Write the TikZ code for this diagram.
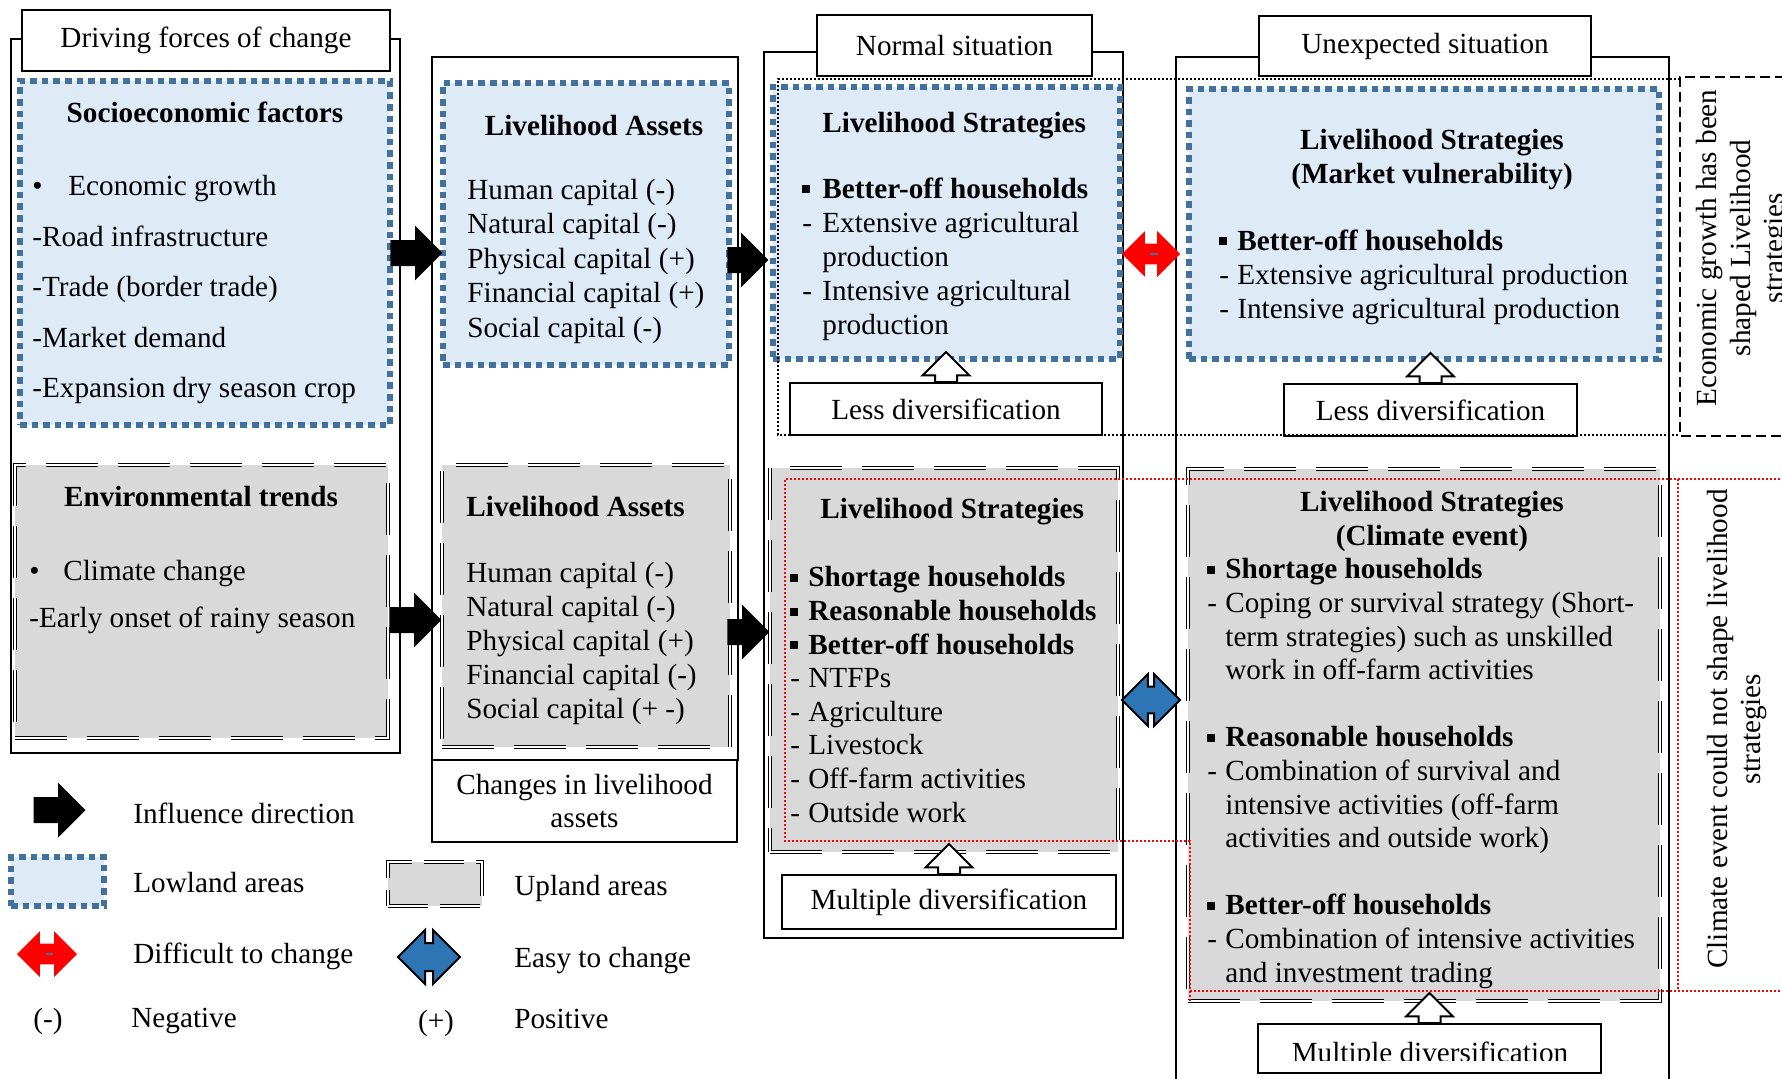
\documentclass[tikz,border=0pt]{standalone}
\usepackage{fontspec}
\setmainfont{Liberation Serif}
\usetikzlibrary{shapes.arrows,calc}
\definecolor{lowfill}{HTML}{DEEBF7}
\definecolor{lowline}{HTML}{41719C}
\definecolor{upgray}{HTML}{D9D9D9}
\definecolor{easyblue}{HTML}{2E75B6}
\newcommand{\sqb}{\rule[2.3pt]{4pt}{4pt}}
\newcommand{\itm}[2][9pt]{\makebox[#1][l]{#2}}
\tikzset{
  colbox/.style={draw,line width=1pt,fill=white,inner sep=0pt,outer sep=0pt,align=center},
  lowland/.style={draw=lowline,fill=lowfill,line width=3pt,dash pattern=on 3.3pt off 2.5pt,
                  inner sep=0pt,outer sep=0pt},
  upland/.style={draw=black,double=white,double distance=1.1pt,line width=0.65pt,
                 dash pattern=on 26pt off 10pt,fill=upgray,inner sep=0pt,outer sep=0pt},
  lbl/.style={inner sep=0pt,align=left,anchor=base west},
  hd/.style={inner sep=0pt,align=center,anchor=base,font=\bfseries},
  influence/.style={single arrow,fill=black,inner xsep=0pt,inner ysep=6.3pt,
                    single arrow head extend=7.2pt,minimum height=26pt,anchor=tip},
  hollowup/.style={single arrow,draw,line width=1pt,fill=white,shape border rotate=90,
                   inner xsep=5pt,inner ysep=0pt,single arrow head extend=6.2pt,
                   minimum height=15pt,anchor=tail},
  hard/.style={double arrow,fill=red,inner xsep=0pt,inner ysep=5pt,
               double arrow head extend=6.2pt,minimum height=29pt},
  easy/.style={double arrow,draw,line width=1pt,fill=easyblue,inner xsep=0pt,inner ysep=6.2pt,
               double arrow head extend=6.2pt,minimum height=29pt},
  blkdot/.style={line width=1pt,dash pattern=on 1pt off 1pt},
  reddot/.style={draw=red,line width=1pt,dash pattern=on 1pt off 1pt},
  dashbox/.style={line width=1pt,dash pattern=on 5pt off 2.5pt},
}
\begin{document}
\fontsize{14.6}{16.9}\selectfont
\begin{tikzpicture}[x=0.5pt,y=-0.5pt]
  \useasboundingbox (0,0) rectangle (1782,1078);

  % driving forces
  \node[colbox,minimum width=194.5pt,minimum height=357pt,anchor=north west] (col1) at (11,39) {};
  \node[lowland,minimum width=185pt,minimum height=172pt,anchor=north west] (socio) at (20,81) {};
  \node[upland,minimum width=186.5pt,minimum height=136.5pt,anchor=north west] (envi) at (15,465) {};
  \node[colbox,minimum width=184pt,minimum height=30.5pt] (ttl1) at (206,40.5) {Driving forces of change};

  % livelihood assets
  \node[colbox,minimum width=153pt,minimum height=351.5pt,anchor=north west] (col2) at (432,57) {};
  \node[lowland,minimum width=143pt,minimum height=141pt,anchor=north west] (assetsUp) at (443,83) {};
  \node[upland,minimum width=144pt,minimum height=141pt,anchor=north west] (assetsLow) at (442,465) {};
  \node[colbox,minimum width=152.5pt,minimum height=41pt,anchor=north west] (chg) at (432,760)
    {Changes in livelihood\\assets};

  % normal situation
  \node[colbox,minimum width=179.5pt,minimum height=443pt,anchor=north west] (col3) at (764,52) {};
  \node[lowland,minimum width=173.5pt,minimum height=136pt,anchor=north west] (stratUp3) at (773,87) {};
  \node[upland,minimum width=174pt,minimum height=192pt,anchor=north west] (stratLow3) at (770,468) {};
  \node[colbox,minimum width=156pt,minimum height=26pt,anchor=north west] (less3) at (790,383) {Less diversification};
  \node[colbox,minimum width=167pt,minimum height=27pt,anchor=north west] (multi3) at (782,875) {Multiple diversification};
  \node[colbox,minimum width=137.5pt,minimum height=30.5pt] (ttl3) at (954.5,45.5) {Normal situation};

  % unexpected situation
  \node[colbox,minimum width=246.5pt,minimum height=520pt,anchor=north west] (col4) at (1176,57) {};
  \node[lowland,minimum width=235pt,minimum height=135pt,anchor=north west] (stratUp4) at (1189,89) {};
  \node[upland,minimum width=236pt,minimum height=266pt,anchor=north west] (stratLow4) at (1188,469) {};
  \node[colbox,minimum width=146.5pt,minimum height=26pt,anchor=north west] (less4) at (1284,384) {Less diversification};
  \node[colbox,minimum width=171.5pt,minimum height=24.5pt,anchor=north west] (multi4) at (1258,1024) {};
  \node[colbox,minimum width=166pt,minimum height=30pt] (ttl4) at (1425,46) {Unexpected situation};

  % lowland row and upland row outlines
  \draw[blkdot] (1680,79) -- (778,79) -- (778,435) -- (1680,435);
  \draw[dashbox] (1800,77) -- (1680,77) -- (1680,436) -- (1800,436);
  \draw[reddot] (1800,479) -- (785,479) -- (785,841) -- (1190,841) -- (1190,1001);
  \draw[reddot] (1190,991) -- (1800,991);
  \draw[reddot] (1678,479) -- (1678,991);

  % influence arrows
  \node[influence] (a1) at (assetsUp.west |- socio.east) {};
  \node[influence] (a2) at ($(assetsLow.west)+(0,14)$) {};
  \node[influence,minimum height=20.5pt] (a3) at ($(stratUp3.west)+(-4,37)$) {};
  \node[influence,minimum height=21pt] (a4) at ($(stratLow3.west)+(0,-28)$) {};

  % change arrows
  \node[hard] (hard1) at ($(stratUp3.east)+(31,31)$) {};
  \draw[lowline,line width=1.3pt] ($(hard1.center)+(-1,0)$) -- ++(8,0);
  \node[easy] (easy1) at ($(stratLow3.east)+(33,40)$) {};

  % diversification arrows
  \node[hollowup] (up1) at (less3.north) {};
  \node[hollowup] (up2) at (multi3.north) {};
  \node[hollowup] (up3) at (less4.north) {};
  \node[hollowup] (up4) at (multi4.north) {};

  % texts (multi-line nodes sit on their last baseline)
  \node[hd] (h1) at (205,122) {Socioeconomic factors};
  \node[lbl,font=\fontsize{14.6}{25.25}\selectfont] (l1) at (32,397.5)
    {\makebox[18pt][l]{\textbullet}Economic growth\\-Road infrastructure\\-Trade (border trade)\\-Market demand\\-Expansion dry season crop};
  \node[hd] (h2) at (201,506) {Environmental trends};
  \node[lbl,font=\fontsize{14.6}{23.5}\selectfont] (l2) at (29,627)
    {\makebox[17pt][l]{\textbullet}Climate change\\-Early onset of rainy season};

  \node[hd] (h3) at (594,135) {Livelihood Assets};
  \node[lbl,font=\fontsize{14.6}{17.2}\selectfont] (l3) at (467,337)
    {Human capital (-)\\Natural capital (-)\\Physical capital (+)\\Financial capital (+)\\Social capital (-)};
  \node[hd,anchor=base west] (h4) at (466,516) {Livelihood Assets};
  \node[lbl] (l4) at (466,718)
    {Human capital (-)\\Natural capital (-)\\Physical capital (+)\\Financial capital (-)\\Social capital (+ -)};

  \node[hd,anchor=base west] (h5) at (822,132) {Livelihood Strategies};
  \node[lbl,font=\fontsize{14.6}{17}\selectfont] (l5) at (802,334)
    {\itm[10pt]{\sqb}\textbf{Better-off households}\\\itm[10pt]{-}Extensive agricultural\\\hspace*{10pt}production\\
     \itm[10pt]{-}Intensive agricultural\\\hspace*{10pt}production};
  \node[hd,anchor=base west] (h6) at (820,518) {Livelihood Strategies};
  \node[lbl,font=\fontsize{14.6}{16.8}\selectfont] (l6) at (790,822)
    {\itm{\sqb}\textbf{Shortage households}\\\itm{\sqb}\textbf{Reasonable households}\\\itm{\sqb}\textbf{Better-off households}\\
     \itm{-}NTFPs\\\itm{-}Agriculture\\\itm{-}Livestock\\\itm{-}Off-farm activities\\\itm{-}Outside work};

  \node[hd,font=\bfseries\fontsize{14.6}{16.6}\selectfont] (h7) at (1432,183) {Livelihood Strategies\\(Market vulnerability)};
  \node[lbl,font=\fontsize{14.6}{17}\selectfont] (l7) at (1219,318)
    {\itm{\sqb}\textbf{Better-off households}\\\itm{-}Extensive agricultural production\\\itm{-}Intensive agricultural production};
  \node[hd,font=\bfseries\fontsize{14.6}{17}\selectfont] (h8) at (1432,545) {Livelihood Strategies\\(Climate event)};
  \node[lbl,font=\fontsize{14.6}{16.8}\selectfont] (l8) at (1207,982)
    {\itm{\sqb}\textbf{Shortage households}\\\itm{-}Coping or survival strategy (Short-\\\hspace*{9pt}term strategies) such as unskilled\\
     \hspace*{9pt}work in off-farm activities\\[16.8pt]
     \itm{\sqb}\textbf{Reasonable households}\\\itm{-}Combination of survival and\\\hspace*{9pt}intensive activities (off-farm\\
     \hspace*{9pt}activities and outside work)\\[16.8pt]
     \itm{\sqb}\textbf{Better-off households}\\\itm{-}Combination of intensive activities\\\hspace*{9pt}and investment trading};

  \begin{scope}
    \clip (multi4.north west) rectangle (1601,1060);
    \node[anchor=base,inner sep=0pt] (m4txt) at (1430,1062) {Multiple diversification};
  \end{scope}

  % side notes
  \node[rotate=90,align=center,inner sep=0pt] (econ) at (1743,248)
    {Economic growth has been\\shaped Livelihood\\strategies};
  \node[rotate=90,align=center,inner sep=0pt] (clim) at (1737,729)
    {Climate event could not shape livelihood\\strategies};

  % legend
  \node[influence,anchor=center] (lgInf) at (53,810) {};
  \node[lbl] (lgInfT) at (133,823) {Influence direction};
  \node[lowland,minimum width=46.5pt,minimum height=24.5pt] (lgLow) at (57.5,881.5) {};
  \node[lbl] (lgLowT) at (133,892) {Lowland areas};
  \node[upland,minimum width=47pt,minimum height=22pt,dash pattern=on 20pt off 6pt] (lgUp) at (435,884) {};
  \node[lbl] (lgUpT) at (514,895) {Upland areas};
  \node[hard,minimum height=30pt] (lgHard) at (47,954) {};
  \draw[lowline,line width=1.3pt] ($(lgHard.center)+(-1,0)$) -- ++(7,0);
  \node[lbl] (lgHardT) at (133,963) {Difficult to change};
  \node[easy,minimum height=31pt,inner ysep=6.5pt,double arrow head extend=6.5pt] (lgEasy) at (429,957) {};
  \node[lbl] (lgEasyT) at (514,967) {Easy to change};
  \node[anchor=base,inner sep=0pt] (lgNeg) at (48,1028) {(-)};
  \node[lbl] (lgNegT) at (131,1027) {Negative};
  \node[anchor=base,inner sep=0pt] (lgPos) at (436,1030) {(+)};
  \node[lbl] (lgPosT) at (514,1028) {Positive};
\end{tikzpicture}
\end{document}
